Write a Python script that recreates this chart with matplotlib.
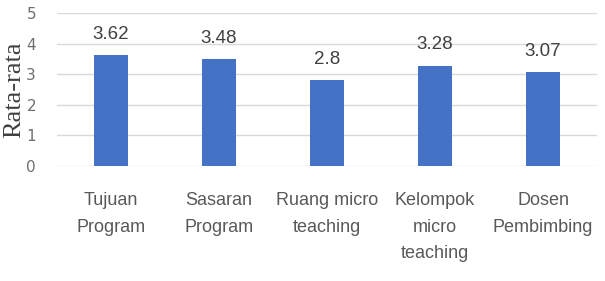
import matplotlib.pyplot as plt
from matplotlib import font_manager

categories = ["Tujuan\nProgram", "Sasaran\nProgram", "Ruang micro\nteaching",
              "Kelompok\nmicro\nteaching", "Dosen\nPembimbing"]
values = [3.62, 3.48, 2.8, 3.28, 3.07]
value_labels = ["3.62", "3.48", "2.8", "3.28", "3.07"]
yticks = [0, 1, 2, 3, 4, 5]

names = {f.name for f in font_manager.fontManager.ttflist}
narrow = "Liberation Sans Narrow" if "Liberation Sans Narrow" in names else "Liberation Sans"

fig = plt.figure(figsize=(6.05, 2.81), dpi=100)
ax = fig.add_axes([0.094, 0.409, 0.893, 0.545])

x = range(len(categories))
bars = ax.bar(x, values, width=0.31, color="#4472C4", zorder=3)

for b, lab in zip(bars, value_labels):
    ax.annotate(lab, (b.get_x() + b.get_width() / 2, b.get_height()),
                xytext=(0, 9), textcoords="offset points",
                ha="center", va="bottom", fontsize=13.5, color="#404040",
                family=narrow)

ax.set_ylim(0, 5)
ax.set_xlim(-0.5, len(categories) - 0.5)
ax.set_yticks(yticks)
ax.yaxis.grid(True, color="#d9d9d9", linewidth=1, zorder=0)
for s in ax.spines.values():
    s.set_visible(False)
ax.tick_params(length=0)
ax.tick_params(axis="y", labelsize=11, labelcolor="#6f6f6f", pad=15)
ax.set_xticks(list(x))
ax.set_xticklabels(categories, fontsize=13, color="#595959",
                   family=narrow, linespacing=1.75)
ax.tick_params(axis="x", pad=18.5)
ax.set_ylabel("Rata-rata", family="Liberation Serif", fontsize=19, color="#404040", labelpad=1)

fig.savefig("out.png", dpi=100)
